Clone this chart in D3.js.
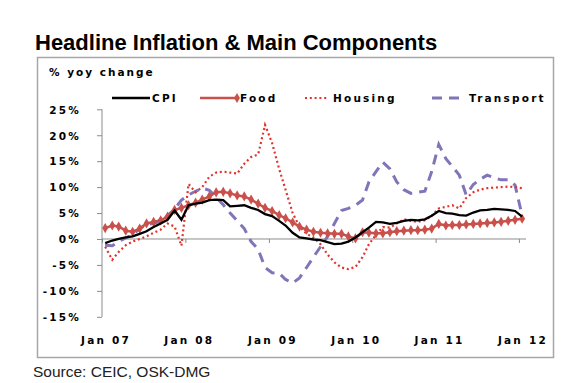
<!DOCTYPE html>
<html>
<head>
<meta charset="utf-8">
<script src="https://cdn.jsdelivr.net/npm/d3@7"></script>
<style>
  html, body { margin: 0; padding: 0; background: #fff; }
  svg { display: block; }
  text { font-family: "Liberation Sans", Arial, sans-serif; }
</style>
</head>
<body>
<svg id="chart" width="577" height="383"></svg>
<script>
// ---- Data (monthly, Jan 2007 .. Jan 2012) ----
const startMonth = "2007-01";
const endMonth = "2012-01";
const cpi = [-0.8,-0.3,0.0,0.3,0.5,1.0,1.5,2.3,3.0,3.7,5.5,3.7,
             6.5,6.8,7.0,7.5,7.6,7.5,6.3,6.4,6.5,6.0,5.6,4.8,
             4.4,3.5,2.6,1.2,0.3,0.1,-0.1,-0.2,-0.6,-1.0,-0.9,-0.5,
             0.3,1.3,2.2,3.3,3.2,2.9,3.1,3.5,3.7,3.6,3.8,4.5,
             5.4,5.0,4.9,4.6,4.5,5.1,5.5,5.6,5.8,5.7,5.6,5.4,
             4.3];
const food = [2.1,2.6,2.4,1.6,1.4,2.0,3.0,3.3,3.6,4.3,5.6,6.0,
              6.5,7.0,7.6,8.2,9.0,9.1,8.8,8.4,8.2,7.6,6.8,6.0,
              5.4,4.6,4.0,3.2,2.4,1.8,1.4,1.2,1.1,1.0,1.0,0.5,
              0.1,1.3,1.2,1.1,1.1,1.3,1.5,1.6,1.7,1.7,1.8,2.0,
              2.9,2.6,2.7,2.7,2.8,2.9,3.0,3.1,3.2,3.3,3.5,3.7,
              3.9];
const housing = [-1.5,-4.0,-2.5,-1.2,-0.5,0.0,0.5,1.2,1.8,3.0,2.4,-1.3,
                 10.6,9.0,10.0,12.0,12.8,13.0,12.8,12.6,14.5,15.8,16.3,22.0,
                 18.5,13.5,9.5,5.0,2.4,1.0,0.3,-1.0,-3.0,-4.5,-5.5,-5.8,
                 -5.4,-3.5,-1.0,0.8,2.3,2.2,3.0,3.8,3.5,3.3,3.6,4.5,
                 5.9,6.2,6.5,5.9,7.9,9.0,9.5,9.8,9.9,10.0,10.1,10.0,
                 9.8];
const transport = [-1.2,-1.3,-0.5,0.2,0.8,2.0,2.8,3.0,3.5,4.5,5.8,7.5,
                   8.5,9.2,9.8,9.4,8.0,6.6,5.0,3.5,2.0,-0.5,-2.0,-5.5,
                   -6.5,-6.6,-7.8,-8.5,-7.5,-5.5,-3.5,-1.5,0.5,3.0,5.5,5.9,
                   6.5,7.5,11.0,13.0,14.8,13.5,11.0,9.5,8.8,9.0,9.2,13.0,
                   18.2,15.5,14.0,12.3,8.5,10.5,11.5,12.3,11.8,11.4,11.4,10.4,
                   4.5];
const seriesNames = ["CPI", "Food", "Housing", "Transport"];
const yTickValues = [25, 20, 15, 10, 5, 0, -5, -10, -15];
const xTickLabels = ["Jan 07", "Jan 08", "Jan 09", "Jan 10", "Jan 11", "Jan 12"];
const xTickYears = [2007, 2008, 2009, 2010, 2011, 2012];

// ---- Setup ----
const svg = d3.select("#chart");
const parse = d3.timeParse("%Y-%m");
const months = d3.timeMonth.range(parse(startMonth), d3.timeMonth.offset(parse(endMonth), 1));
const dates = months.map(d => d3.timeDay.offset(d, 14));

const x = d3.scaleTime()
  .domain([parse("2007-01"), parse("2012-02")])
  .range([102, 526]);
const y = d3.scaleLinear().domain([-15, 25]).range([316.8, 109.3]);

const labelFont = "bold 10.5px 'DejaVu Sans', sans-serif";

// Title
svg.append("text")
  .attr("x", 35).attr("y", 50)
  .style("font-size", "22px").style("font-weight", "bold")
  .attr("fill", "#000")
  .text("Headline Inflation & Main Components");

// Frame
svg.append("rect")
  .attr("x", 37.5).attr("y", 57.5).attr("width", 516).attr("height", 300)
  .attr("fill", "none").attr("stroke", "#A6A6A6").attr("stroke-width", 1.5);

// Unit label
svg.append("text")
  .attr("x", 49).attr("y", 76)
  .style("font", labelFont).style("letter-spacing", "2px")
  .text("% yoy change");

// Y axis
const yAxis = d3.axisLeft(y).tickValues(yTickValues).tickSize(5).tickPadding(16)
  .tickFormat(d => d + "%");
const gy = svg.append("g").attr("transform", "translate(102,0)").call(yAxis);
gy.select(".domain").attr("stroke", "#8c8c8c").attr("d", `M0,${y(25)}V${y(-15)}`);
gy.selectAll(".tick line").attr("stroke", "#8c8c8c");
gy.selectAll(".tick text")
  .style("font", labelFont).style("letter-spacing", "2.2px")
  .attr("fill", "#000").attr("dy", "0.36em");

// X axis along zero line
const xAxis = d3.axisBottom(x)
  .tickValues(xTickYears.map(yr => new Date(yr, 0, 1)))
  .tickSize(4).tickFormat("");
const gx = svg.append("g").attr("transform", `translate(0,${y(0)})`).call(xAxis);
gx.select(".domain").attr("stroke", "#8c8c8c").attr("d", `M${x.range()[0]},0H${x.range()[1]}`);
gx.selectAll(".tick line").attr("stroke", "#8c8c8c");

// X tick labels at bottom
svg.append("g").selectAll("text")
  .data(xTickYears)
  .join("text")
  .attr("x", (d) => x(new Date(d, 0, 1)) + 4)
  .attr("y", 343.5)
  .attr("text-anchor", "middle")
  .style("font", labelFont).style("letter-spacing", "2.2px")
  .text((d, i) => xTickLabels[i]);

// Lines
const line = d3.line().x((d, i) => x(dates[i])).y(d => y(d));
const plot = svg.append("g");

plot.append("path").datum(transport)
  .attr("fill", "none").attr("stroke", "#8274B8").attr("stroke-width", 3)
  .attr("stroke-dasharray", "10,7").attr("d", line);

plot.append("path").datum(housing)
  .attr("fill", "none").attr("stroke", "#E4322B").attr("stroke-width", 2.2)
  .attr("stroke-dasharray", "2,2.8").attr("d", line);

plot.append("path").datum(food)
  .attr("fill", "none").attr("stroke", "#C9504B").attr("stroke-width", 2.5)
  .attr("d", line);
const diamond = d3.symbol().type(d3.symbolDiamond).size(30);
plot.append("g").selectAll("path")
  .data(food)
  .join("path")
  .attr("transform", (d, i) => `translate(${x(dates[i])},${y(d)})`)
  .attr("d", diamond)
  .attr("fill", "#C9504B");

plot.append("path").datum(cpi)
  .attr("fill", "none").attr("stroke", "#000").attr("stroke-width", 2.3)
  .attr("d", line);

// Legend
const legY = 98;
const lg = svg.append("g");
const legendItems = [
  { name: seriesNames[0], x0: 112, x1: 150, tx: 152, stroke: "#000", w: 2.5, dash: null, marker: false },
  { name: seriesNames[1], x0: 200, x1: 237, tx: 240, stroke: "#C9504B", w: 2.5, dash: null, marker: true },
  { name: seriesNames[2], x0: 305, x1: 329, tx: 333, stroke: "#E4322B", w: 2.2, dash: "2,2.8", marker: false },
  { name: seriesNames[3], x0: 432, x1: 463, tx: 469, stroke: "#8274B8", w: 3, dash: "10,7", marker: false }
];
legendItems.forEach(it => {
  lg.append("line").attr("x1", it.x0).attr("x2", it.x1).attr("y1", legY).attr("y2", legY)
    .attr("stroke", it.stroke).attr("stroke-width", it.w)
    .attr("stroke-dasharray", it.dash);
  if (it.marker) {
    lg.append("path").attr("transform", `translate(${it.x1},${legY})`)
      .attr("d", diamond).attr("fill", it.stroke);
  }
  lg.append("text").attr("x", it.tx).attr("y", legY).attr("dy", "0.36em")
    .style("font", labelFont).style("letter-spacing", "2.2px")
    .text(it.name);
});

// Source
svg.append("text")
  .attr("x", 33).attr("y", 377)
  .style("font-size", "15.5px").attr("fill", "#222")
  .text("Source: CEIC, OSK-DMG");
</script>
</body>
</html>
